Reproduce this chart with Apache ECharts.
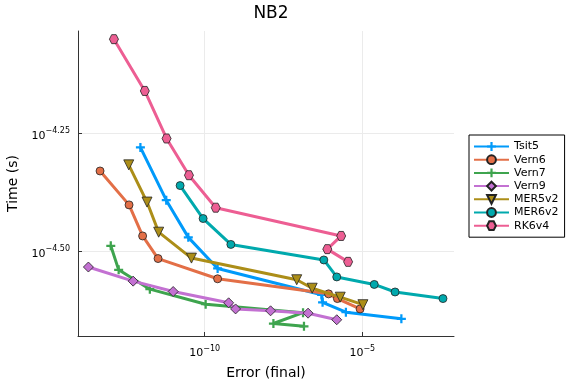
<!DOCTYPE html>
<html><head><meta charset="utf-8">
<script src="https://cdn.jsdelivr.net/npm/echarts@6/dist/echarts.min.js"></script>
<style>html,body{margin:0;padding:0;background:#fff}#c{width:576px;height:384px}</style>
</head><body><div id="c"></div>
<script>
// log10(error), log10(time)
const seriesNames = ['Tsit5','Vern6','Vern7','Vern9','MER5v2','MER6v2','RK6v4'];
const tsit5X = [-12.04,-11.22,-10.52,-9.59,-6.29,-6.26,-5.52,-3.76];
const tsit5Y = [-4.280,-4.392,-4.471,-4.537,-4.593,-4.609,-4.630,-4.644];
const vern6X = [-13.32,-12.40,-11.97,-11.48,-9.59,-6.07,-5.79,-5.07];
const vern6Y = [-4.330,-4.402,-4.468,-4.516,-4.559,-4.591,-4.601,-4.623];
const vern7X = [-12.98,-12.73,-11.74,-9.97,-6.88,-7.82,-6.85];
const vern7Y = [-4.489,-4.540,-4.581,-4.613,-4.631,-4.654,-4.660];
const vern9X = [-13.69,-12.27,-11.00,-9.24,-9.02,-7.91,-6.72,-5.81];
const vern9Y = [-4.534,-4.564,-4.586,-4.610,-4.623,-4.627,-4.632,-4.646];
const mer5X = [-12.41,-11.83,-11.46,-10.42,-7.08,-6.59,-5.70,-4.98];
const mer5Y = [-4.317,-4.396,-4.460,-4.515,-4.561,-4.579,-4.598,-4.614];
const mer6X = [-10.78,-10.05,-9.17,-6.22,-5.81,-4.62,-3.96,-2.44];
const mer6Y = [-4.361,-4.431,-4.486,-4.519,-4.555,-4.571,-4.587,-4.601];
const rk6X = [-12.88,-11.90,-11.21,-10.50,-9.65,-5.67,-6.11,-5.45];
const rk6Y = [-4.050,-4.160,-4.261,-4.339,-4.408,-4.468,-4.496,-4.523];
const xTicks = [-10,-5];
const yTicks = [-4.50,-4.25];

const colors = ['#009AFA','#E36F47','#3EA44E','#C371D2','#AC8E18','#00A9AD','#ED5E93'];
const allX = [tsit5X,vern6X,vern7X,vern9X,mer5X,mer6X,rk6X];
const allY = [tsit5Y,vern6Y,vern7Y,vern9Y,mer5Y,mer6Y,rk6Y];
const plus = 'path://M3,0H5V3H8V5H5V8H3V5H0V3H3Z';
const hex = 'path://M0,3.46L2,0L6,0L8,3.46L6,6.93L2,6.93Z';
const symbols = [plus,'circle',plus,'diamond','triangle','circle',hex];
const sizes = [9,8,9,10,10,8,9];
const rot = [0,0,0,0,180,0,0];

function supLabel(v, dec){
  const s = dec ? v.toFixed(2) : String(v);
  return '{b|10}{s|' + s.replace('-', '\u2212') + '}';
}

const series = seriesNames.map((n,i)=>({
  name:n, type:'line',
  data: allX[i].map((x,j)=>[x, allY[i][j]]),
  symbol: symbols[i], symbolSize: sizes[i], symbolRotate: rot[i],
  lineStyle:{color:colors[i], width:3},
  itemStyle:{color:colors[i], borderColor: (symbols[i]===plus)?colors[i]:'#222', borderWidth:(symbols[i]===plus)?0:0.8, opacity:1},
  showSymbol:true, animation:false, z: 2+i
}));

const chart = echarts.init(document.getElementById('c'));
chart.setOption({
  animation:false,
  backgroundColor:'#fff',
  textStyle:{fontFamily:'DejaVu Sans'},
  title:{text:'NB2', left:266, top:0, textAlign:'center',
    textStyle:{fontSize:17, fontWeight:'normal', color:'#000', fontFamily:'DejaVu Sans'}},
  grid:{left:78, right:122, top:31, bottom:48, containLabel:false, outerBoundsMode:'none'},
  legend:{
    orient:'vertical', left:469, top:135,
    data:seriesNames,
    itemWidth:35, itemHeight:11, itemGap:2.2,
    padding:[6,6,6,4],
    borderColor:'#000', borderWidth:1,
    textStyle:{fontSize:11, color:'#000', fontFamily:'DejaVu Sans', lineHeight:11}
  },
  xAxis:{
    type:'value', min:-14.02, max:-2.09,
    name:'Error (final)', nameLocation:'middle', nameGap:30,
    nameTextStyle:{fontSize:14, color:'#000', fontFamily:'DejaVu Sans'},
    axisLine:{show:true, lineStyle:{color:'#333', width:1}},
    axisTick:{show:true, inside:true, length:4, customValues:xTicks, lineStyle:{color:'#333'}},
    axisLabel:{customValues:xTicks, margin:6, color:'#000',
      formatter:(v)=>supLabel(v,false),
      rich:{b:{fontSize:11, color:'#000', fontFamily:'DejaVu Sans', padding:[6,0,0,0]},
            s:{fontSize:8, color:'#000', fontFamily:'DejaVu Sans', padding:[0,0,4,0]}}},
    splitLine:{show:true, lineStyle:{color:'#ebebeb', width:1}}
  },
  yAxis:{
    type:'value', min:-4.6805, max:-4.0327,
    name:'Time (s)', nameLocation:'middle', nameGap:57, nameRotate:90,
    nameTextStyle:{fontSize:14, color:'#000', fontFamily:'DejaVu Sans'},
    axisLine:{show:true, lineStyle:{color:'#333', width:1}},
    axisTick:{show:true, inside:true, length:4, customValues:yTicks, lineStyle:{color:'#333'}},
    axisLabel:{customValues:yTicks, margin:8, color:'#000',
      formatter:(v)=>supLabel(v,true),
      rich:{b:{fontSize:11, color:'#000', fontFamily:'DejaVu Sans', padding:[6,0,0,0]},
            s:{fontSize:8, color:'#000', fontFamily:'DejaVu Sans', padding:[0,0,4,0]}}},
    splitLine:{show:true, lineStyle:{color:'#ebebeb', width:1}}
  },
  series: series
});
</script>
</body></html>
